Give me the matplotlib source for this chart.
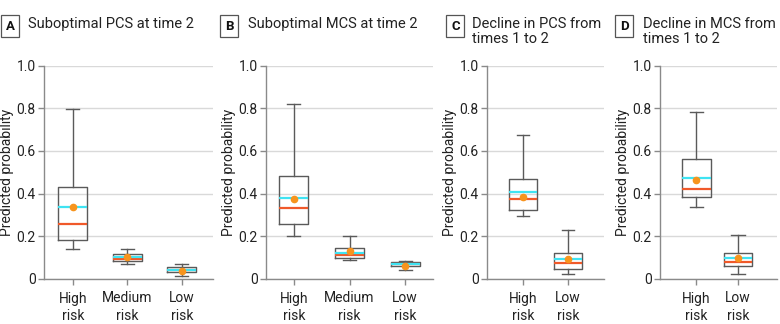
# Predicted probabilities by risk group, four panels (A-D)
import matplotlib.pyplot as plt

plt.rcParams['font.family'] = ['Roboto', 'DejaVu Sans']

# Panel A: suboptimal PCS at time 2
a_groups = ['High\nrisk', 'Medium\nrisk', 'Low\nrisk']
a_whislo = [0.141, 0.072, 0.014]
a_q1 = [0.183, 0.083, 0.031]
a_med = [0.259, 0.095, 0.040]
a_q3 = [0.430, 0.116, 0.056]
a_whishi = [0.797, 0.141, 0.072]
a_mean = [0.336, 0.102, 0.043]
a_point = [0.336, 0.102, 0.039]

# Panel B: suboptimal MCS at time 2
b_groups = ['High\nrisk', 'Medium\nrisk', 'Low\nrisk']
b_whislo = [0.203, 0.088, 0.040]
b_q1 = [0.259, 0.097, 0.063]
b_med = [0.334, 0.111, 0.068]
b_q3 = [0.481, 0.144, 0.078]
b_whishi = [0.820, 0.203, 0.086]
b_mean = [0.381, 0.123, 0.070]
b_point = [0.373, 0.133, 0.062]

# Panel C: decline in PCS from times 1 to 2
c_groups = ['High\nrisk', 'Low\nrisk']
c_whislo = [0.295, 0.022]
c_q1 = [0.322, 0.048]
c_med = [0.376, 0.075]
c_q3 = [0.467, 0.120]
c_whishi = [0.675, 0.230]
c_mean = [0.406, 0.092]
c_point = [0.383, 0.092]

# Panel D: decline in MCS from times 1 to 2
d_groups = ['High\nrisk', 'Low\nrisk']
d_whislo = [0.339, 0.023]
d_q1 = [0.386, 0.059]
d_med = [0.421, 0.081]
d_q3 = [0.561, 0.120]
d_whishi = [0.780, 0.205]
d_mean = [0.471, 0.098]
d_point = [0.463, 0.098]

yticks = [0, 0.2, 0.4, 0.6, 0.8, 1.0]
ytick_labels = ['0', '0.2', '0.4', '0.6', '0.8', '1.0']

W, H = 780, 324
fig = plt.figure(figsize=(7.8, 3.24), dpi=100)

AXIS_GRAY = '#8a8a8a'
BOX_GRAY = '#5a5a5a'
TEXT = '#222222'


def px_rect(left, right, top=65.5, bottom=279):
    return [left / W, 1 - bottom / H, (right - left) / W, (bottom - top) / H]


def draw_panel(ax, groups, whislo, q1, med, q3, whishi, mean, point, xlim, width,
               width_px):
    stats = []
    for i in range(len(groups)):
        stats.append(dict(whislo=whislo[i], q1=q1[i], med=med[i], q3=q3[i],
                          whishi=whishi[i], mean=mean[i], fliers=[]))
    pos = list(range(len(groups)))
    ax.bxp(stats, positions=pos, widths=width, capwidths=width * 0.45,
           showmeans=True, meanline=True, showfliers=False,
           boxprops=dict(color=BOX_GRAY, linewidth=1),
           whiskerprops=dict(color=BOX_GRAY, linewidth=1),
           capprops=dict(color=BOX_GRAY, linewidth=1),
           medianprops=dict(color='#f0592a', linewidth=1.6),
           meanprops=dict(color='#3fe3f2', linestyle='-', linewidth=1.6))
    ax.plot(pos, point, 'o', color='#f7941d', markersize=4.5, zorder=5)

    ax.set_xlim(xlim)
    ax.set_ylim(0, 1.0)
    ax.set_yticks(yticks)
    ax.set_yticklabels(ytick_labels)
    ax.set_xticks(pos)
    ax.set_xticklabels(groups, linespacing=1.3)
    ax.yaxis.grid(True, color='#d9d9d9', linewidth=1)
    ax.set_axisbelow(True)
    for s in ['top', 'right']:
        ax.spines[s].set_visible(False)
    for s in ['left', 'bottom']:
        ax.spines[s].set_color(AXIS_GRAY)
        ax.spines[s].set_linewidth(1)
    ax.tick_params(axis='both', length=4, width=1, color=AXIS_GRAY,
                   labelsize=10, labelcolor=TEXT)
    ax.tick_params(axis='x', pad=5)
    ax.tick_params(axis='y', pad=2)
    ax.set_ylabel('Predicted probability', fontsize=10, color=TEXT)
    # right edge of the rotated label sits about 30 px left of the axis line
    ax.yaxis.set_label_coords(-30 / width_px, 0.5)


ax_a = fig.add_axes(px_rect(44, 213))
draw_panel(ax_a, a_groups, a_whislo, a_q1, a_med, a_q3, a_whishi, a_mean, a_point,
           (-0.53, 2.57), 0.53, 169)

ax_b = fig.add_axes(px_rect(266, 433))
draw_panel(ax_b, b_groups, b_whislo, b_q1, b_med, b_q3, b_whishi, b_mean, b_point,
           (-0.5, 2.5), 0.52, 167)

ax_c = fig.add_axes(px_rect(487, 604))
draw_panel(ax_c, c_groups, c_whislo, c_q1, c_med, c_q3, c_whishi, c_mean, c_point,
           (-0.8, 1.8), 0.64, 117)

ax_d = fig.add_axes(px_rect(660, 777))
draw_panel(ax_d, d_groups, d_whislo, d_q1, d_med, d_q3, d_whishi, d_mean, d_point,
           (-0.86, 1.93), 0.69, 117)

# panel letters and titles
panel_titles = [
    ('A', 6, 'Suboptimal PCS at time 2', 28),
    ('B', 225, 'Suboptimal MCS at time 2', 248),
    ('C', 451, 'Decline in PCS from\ntimes 1 to 2', 472),
    ('D', 620, 'Decline in MCS from\ntimes 1 to 2', 643),
]
for letter, lx, title, tx in panel_titles:
    fig.text(lx / W, 1 - 26 / H, letter, fontsize=9.5, fontweight='bold',
             va='center', ha='left', color='#111111',
             bbox=dict(boxstyle='square,pad=0.35', facecolor='white',
                       edgecolor='#555555', linewidth=0.9))
    fig.text(tx / W, 1 - 17 / H, title, fontsize=10.5, va='top', ha='left',
             color=TEXT, linespacing=1.1)

fig.savefig('out.png', dpi=100)
